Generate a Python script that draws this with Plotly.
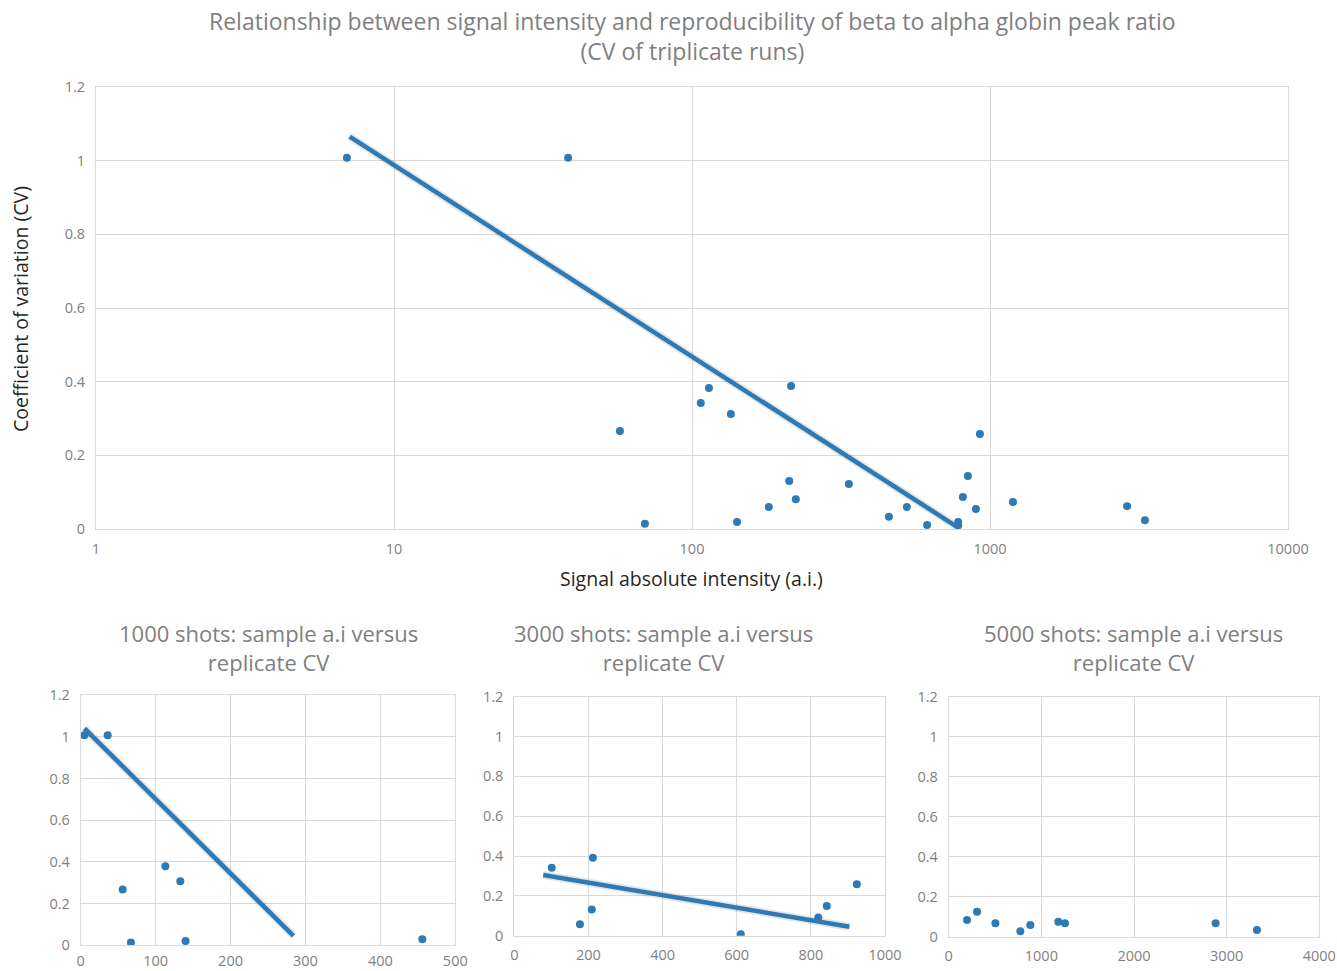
import plotly.graph_objects as go

# ---- Top chart data (all runs) ----
top_x = [6.95, 38.4, 57.3, 69.5, 107, 114, 135, 141.6, 181, 212, 215, 223, 336,
         458, 526, 615, 782, 782, 811, 843, 897, 925, 1194, 2884, 3311]
top_y = [1.008, 1.008, 0.266, 0.014, 0.342, 0.383, 0.312, 0.019, 0.060, 0.130,
         0.388, 0.081, 0.122, 0.033, 0.060, 0.011, 0.019, 0.010, 0.087, 0.144,
         0.054, 0.258, 0.073, 0.062, 0.024]
top_trend_x = [7.1, 782]
top_trend_y = [1.065, 0.004]

# ---- 1000 shots ----
s1000_x = [4.9, 36, 56, 67, 113, 133, 140, 456]
s1000_y = [1.007, 1.007, 0.267, 0.013, 0.379, 0.307, 0.021, 0.029]
s1000_trend_x = [5, 284]
s1000_trend_y = [1.04, 0.045]

# ---- 3000 shots ----
s3000_x = [101, 177, 209, 212, 611, 820, 843, 924]
s3000_y = [0.341, 0.057, 0.132, 0.392, 0.007, 0.092, 0.149, 0.258]
s3000_trend_x = [78, 904]
s3000_trend_y = [0.305, 0.045]

# ---- 5000 shots ----
s5000_x = [198, 306, 504, 773, 881, 1183, 1255, 2881, 3327]
s5000_y = [0.083, 0.125, 0.067, 0.027, 0.058, 0.075, 0.067, 0.067, 0.033]

top_title = "Relationship between signal intensity and reproducibility of beta to alpha globin peak ratio<br>(CV of triplicate runs)"
sub_titles = ["1000 shots: sample a.i versus<br>replicate CV",
              "3000 shots: sample a.i versus<br>replicate CV",
              "5000 shots: sample a.i versus<br>replicate CV"]
x_title = "Signal absolute intensity (a.i.)"
y_title = "Coefficient of variation (CV)"
log_ticks = [1, 10, 100, 1000, 10000]
log_ticktext = ["1", "10", "100", "1000", "10000"]

BLUE = "#2e7ab6"
GRID = "#d9d9d9"
TICKC = "#7f7f7f"
FONT = "Open Sans"

fig = go.Figure()

def add_series(xs, ys, xa, ya):
    fig.add_trace(go.Scatter(x=xs, y=ys, mode="markers", xaxis=xa, yaxis=ya,
                             marker=dict(color=BLUE, size=8), showlegend=False))

def add_trend(xs, ys, xa, ya):
    fig.add_trace(go.Scatter(x=xs, y=ys, mode="lines", xaxis=xa, yaxis=ya,
                             line=dict(color="rgba(0,0,0,0.10)", width=8),
                             showlegend=False, hoverinfo="skip"))
    fig.add_trace(go.Scatter(x=xs, y=ys, mode="lines", xaxis=xa, yaxis=ya,
                             line=dict(color=BLUE, width=4.5), showlegend=False))

add_trend(top_trend_x, top_trend_y, "x", "y")
add_series(top_x, top_y, "x", "y")
add_trend(s1000_trend_x, s1000_trend_y, "x2", "y2")
add_series(s1000_x, s1000_y, "x2", "y2")
add_trend(s3000_trend_x, s3000_trend_y, "x3", "y3")
add_series(s3000_x, s3000_y, "x3", "y3")
add_series(s5000_x, s5000_y, "x4", "y4")

# body margin is removed by post_script, so the figure covers the whole window
W, H = 1337, 971

def px(x):
    return x / W
def py(y):
    return 1 - y / H
def dx(a, b):
    return [px(a), px(b)]
def dy(top, bot):
    return [py(bot), py(top)]

tickfont = dict(family=FONT, size=14.5, color=TICKC)
common_axis = dict(showgrid=True, gridcolor=GRID, gridwidth=1, zeroline=False,
                   showline=True, linecolor=GRID, linewidth=1, mirror=True,
                   ticks="", tickfont=tickfont)

yax = dict(range=[0, 1.2], dtick=0.2, ticklabelstandoff=7, **common_axis)

fig.update_layout(
    width=W, height=H,
    margin=dict(l=0, r=0, t=0, b=0, autoexpand=False),
    paper_bgcolor="white", plot_bgcolor="white",
    font=dict(family=FONT),
    xaxis=dict(type="log", range=[0, 4], tickvals=log_ticks, ticktext=log_ticktext,
               domain=dx(96, 1288), anchor="y", ticklabelstandoff=7, **common_axis),
    yaxis=dict(domain=dy(87, 529), anchor="x", **yax),
    xaxis2=dict(range=[0, 500], dtick=100, domain=dx(80.7, 455.3), anchor="y2",
                ticklabelstandoff=2, **common_axis),
    yaxis2=dict(domain=dy(695, 945.3), anchor="x2", **yax),
    xaxis3=dict(range=[0, 1000], dtick=200, domain=dx(514.3, 885), anchor="y3",
                ticklabelstandoff=6, **common_axis),
    yaxis3=dict(domain=dy(696.7, 935.7), anchor="x3", **yax),
    xaxis4=dict(range=[0, 4000], dtick=1000, domain=dx(948.7, 1319.3), anchor="y4",
                ticklabelstandoff=6, **common_axis),
    yaxis4=dict(domain=dy(696.7, 936.7), anchor="x4", **yax),
)

fig.add_annotation(text=top_title, x=px(692), y=py(35.5), xref="paper", yref="paper",
                   xanchor="center", yanchor="middle", showarrow=False,
                   font=dict(family=FONT, size=23, color="#7f7f7f"))
for txt, cx in zip(sub_titles, [268, 663, 1133]):
    fig.add_annotation(text=txt, x=px(cx), y=py(647.5), xref="paper", yref="paper",
                       xanchor="center", yanchor="middle", showarrow=False,
                       font=dict(family=FONT, size=22, color="#7f7f7f"))
fig.add_annotation(text=x_title, x=px(691), y=py(578), xref="paper", yref="paper",
                   xanchor="center", yanchor="middle", showarrow=False,
                   font=dict(family=FONT, size=19.5, color="#262626"))
fig.add_annotation(text=y_title, x=px(20), y=py(309), xref="paper", yref="paper",
                   xanchor="center", yanchor="middle", showarrow=False, textangle=-90,
                   font=dict(family=FONT, size=19.5, color="#262626"))

fig.write_html("out.html", config={"displayModeBar": False},
               post_script="document.body.style.margin='0';document.body.style.overflow='hidden';")
